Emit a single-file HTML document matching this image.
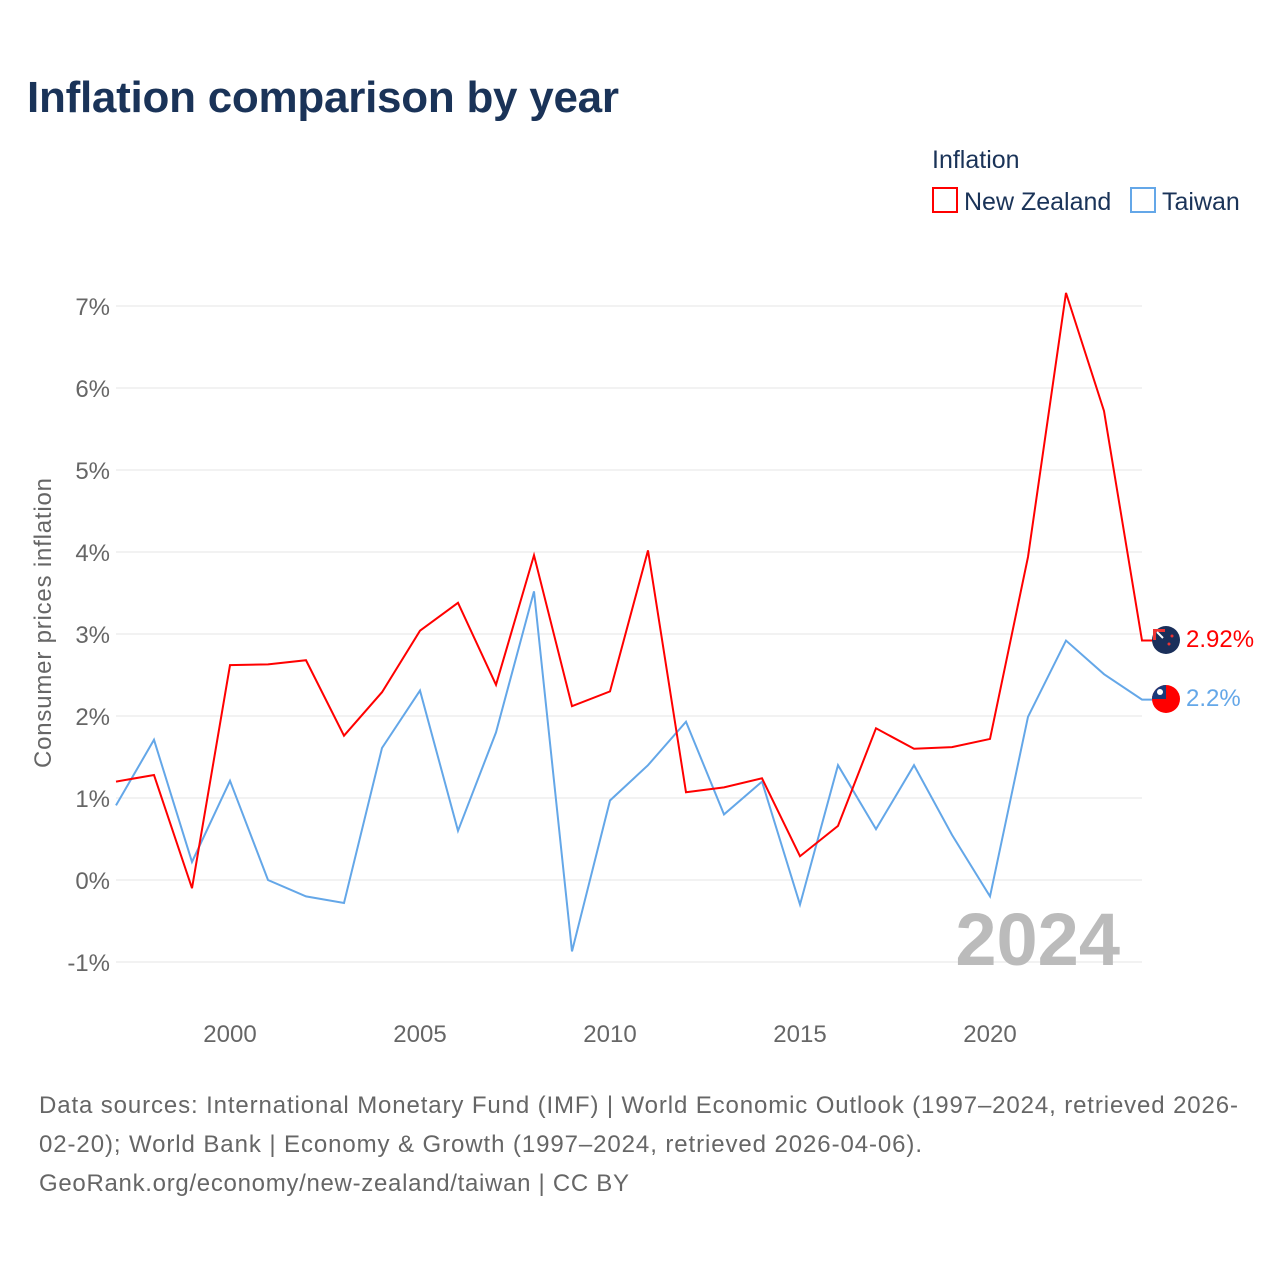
<!DOCTYPE html>
<html><head><meta charset="utf-8"><style>
body{margin:0;background:#fff;font-family:"Liberation Sans",sans-serif;}
</style></head><body>
<svg width="1280" height="1280" xmlns="http://www.w3.org/2000/svg">
<text x="27" y="112" font-size="44" font-weight="bold" fill="#1a3358" textLength="592">Inflation comparison by year</text>
<text x="932" y="168" font-size="25" fill="#1a3358">Inflation</text>
<g><rect x="933" y="188" width="24" height="24" fill="none" stroke="#ff0000" stroke-width="2"/><text x="964" y="210" font-size="25" fill="#1a3358">New Zealand</text></g>
<g><rect x="1131" y="188" width="24" height="24" fill="none" stroke="#64a7e8" stroke-width="2"/><text x="1162" y="210" font-size="25" fill="#1a3358">Taiwan</text></g>
<g id="grid"></g><g id="ylabels"></g><g id="xlabels"></g>
<text transform="translate(51,623) rotate(-90)" text-anchor="middle" font-size="24" fill="#666" textLength="290">Consumer prices inflation</text>
<text x="1120" y="965" text-anchor="end" font-size="74" font-weight="bold" fill="#bbb">2024</text>
<g id="series"></g>
<g><circle cx="1166" cy="640" r="14" fill="#1a2f5a"/><path d="M1153,629 h12 v3 h-9 v8 h-3z" fill="#e33"/><path d="M1157,632 l6,6" stroke="#fff" stroke-width="2"/><circle cx="1172" cy="636" r="1.5" fill="#e33"/><circle cx="1169" cy="644" r="1.5" fill="#e33"/></g>
<g><circle cx="1166" cy="699" r="14" fill="#ff0000"/><path d="M1152,699 A14,14 0 0 1 1166,685 L1166,699Z" fill="#1a3a7a"/><circle cx="1160" cy="692" r="3" fill="#fff"/></g>
<text x="1186" y="647" font-size="24" fill="#ff0000">2.92%</text>
<text x="1186" y="706" font-size="24" fill="#64a7e8">2.2%</text>
<text font-size="24" fill="#666"><tspan x="39" y="1113" textLength="1199">Data sources: International Monetary Fund (IMF) | World Economic Outlook (1997–2024, retrieved 2026-</tspan><tspan x="39" y="1152" textLength="883">02-20); World Bank | Economy &amp; Growth (1997–2024, retrieved 2026-04-06).</tspan><tspan x="39" y="1191" textLength="590">GeoRank.org/economy/new-zealand/taiwan | CC BY</tspan></text>
</svg>
<script>
const years=[1997,1998,1999,2000,2001,2002,2003,2004,2005,2006,2007,2008,2009,2010,2011,2012,2013,2014,2015,2016,2017,2018,2019,2020,2021,2022,2023,2024];
const nz=[1.20,1.28,-0.1,2.62,2.63,2.68,1.76,2.29,3.04,3.38,2.38,3.96,2.12,2.30,4.02,1.07,1.13,1.24,0.29,0.66,1.85,1.60,1.62,1.72,3.94,7.16,5.72,2.92];
const tw=[0.91,1.71,0.22,1.21,0.0,-0.2,-0.28,1.61,2.31,0.60,1.80,3.52,-0.87,0.97,1.40,1.93,0.80,1.20,-0.30,1.40,0.62,1.40,0.55,-0.20,1.99,2.92,2.51,2.20];
const yTicks=[-1,0,1,2,3,4,5,6,7];
const xTicks=[2000,2005,2010,2015,2020];
const NS="http://www.w3.org/2000/svg";
const X=y=>116+(y-1997)*38, Y=v=>880-v*82;
function mk(t,a,p){const e=document.createElementNS(NS,t);for(const k in a)e.setAttribute(k,a[k]);p.appendChild(e);return e;}
const g=document.getElementById('grid'),yl=document.getElementById('ylabels'),xl=document.getElementById('xlabels'),s=document.getElementById('series');
yTicks.forEach(v=>{const l=mk('line',{x1:116,x2:1142,y1:Y(v),y2:Y(v),stroke:'#e6e6e6','stroke-width':1},g);


const t=mk('text',{x:110,y:Y(v)+9,'text-anchor':'end','font-size':24,fill:'#666'},yl);t.textContent=v+'%';

});
xTicks.forEach(v=>{const t=mk('text',{x:X(v),y:1042,'text-anchor':'middle','font-size':24,fill:'#666'},xl);t.textContent=v;

});
function line(d,c,name){let p=years.map((y,i)=>(i?'L':'M')+X(y)+','+Y(d[i])).join('');p+='L'+(X(2024)+14)+','+Y(d[d.length-1]);
const e=mk('path',{d:p,fill:'none',stroke:c,'stroke-width':2},s);

}
line(tw,'#64a7e8','taiwan-line');
line(nz,'#ff0000','new-zealand-line');
</script>
</body></html>
